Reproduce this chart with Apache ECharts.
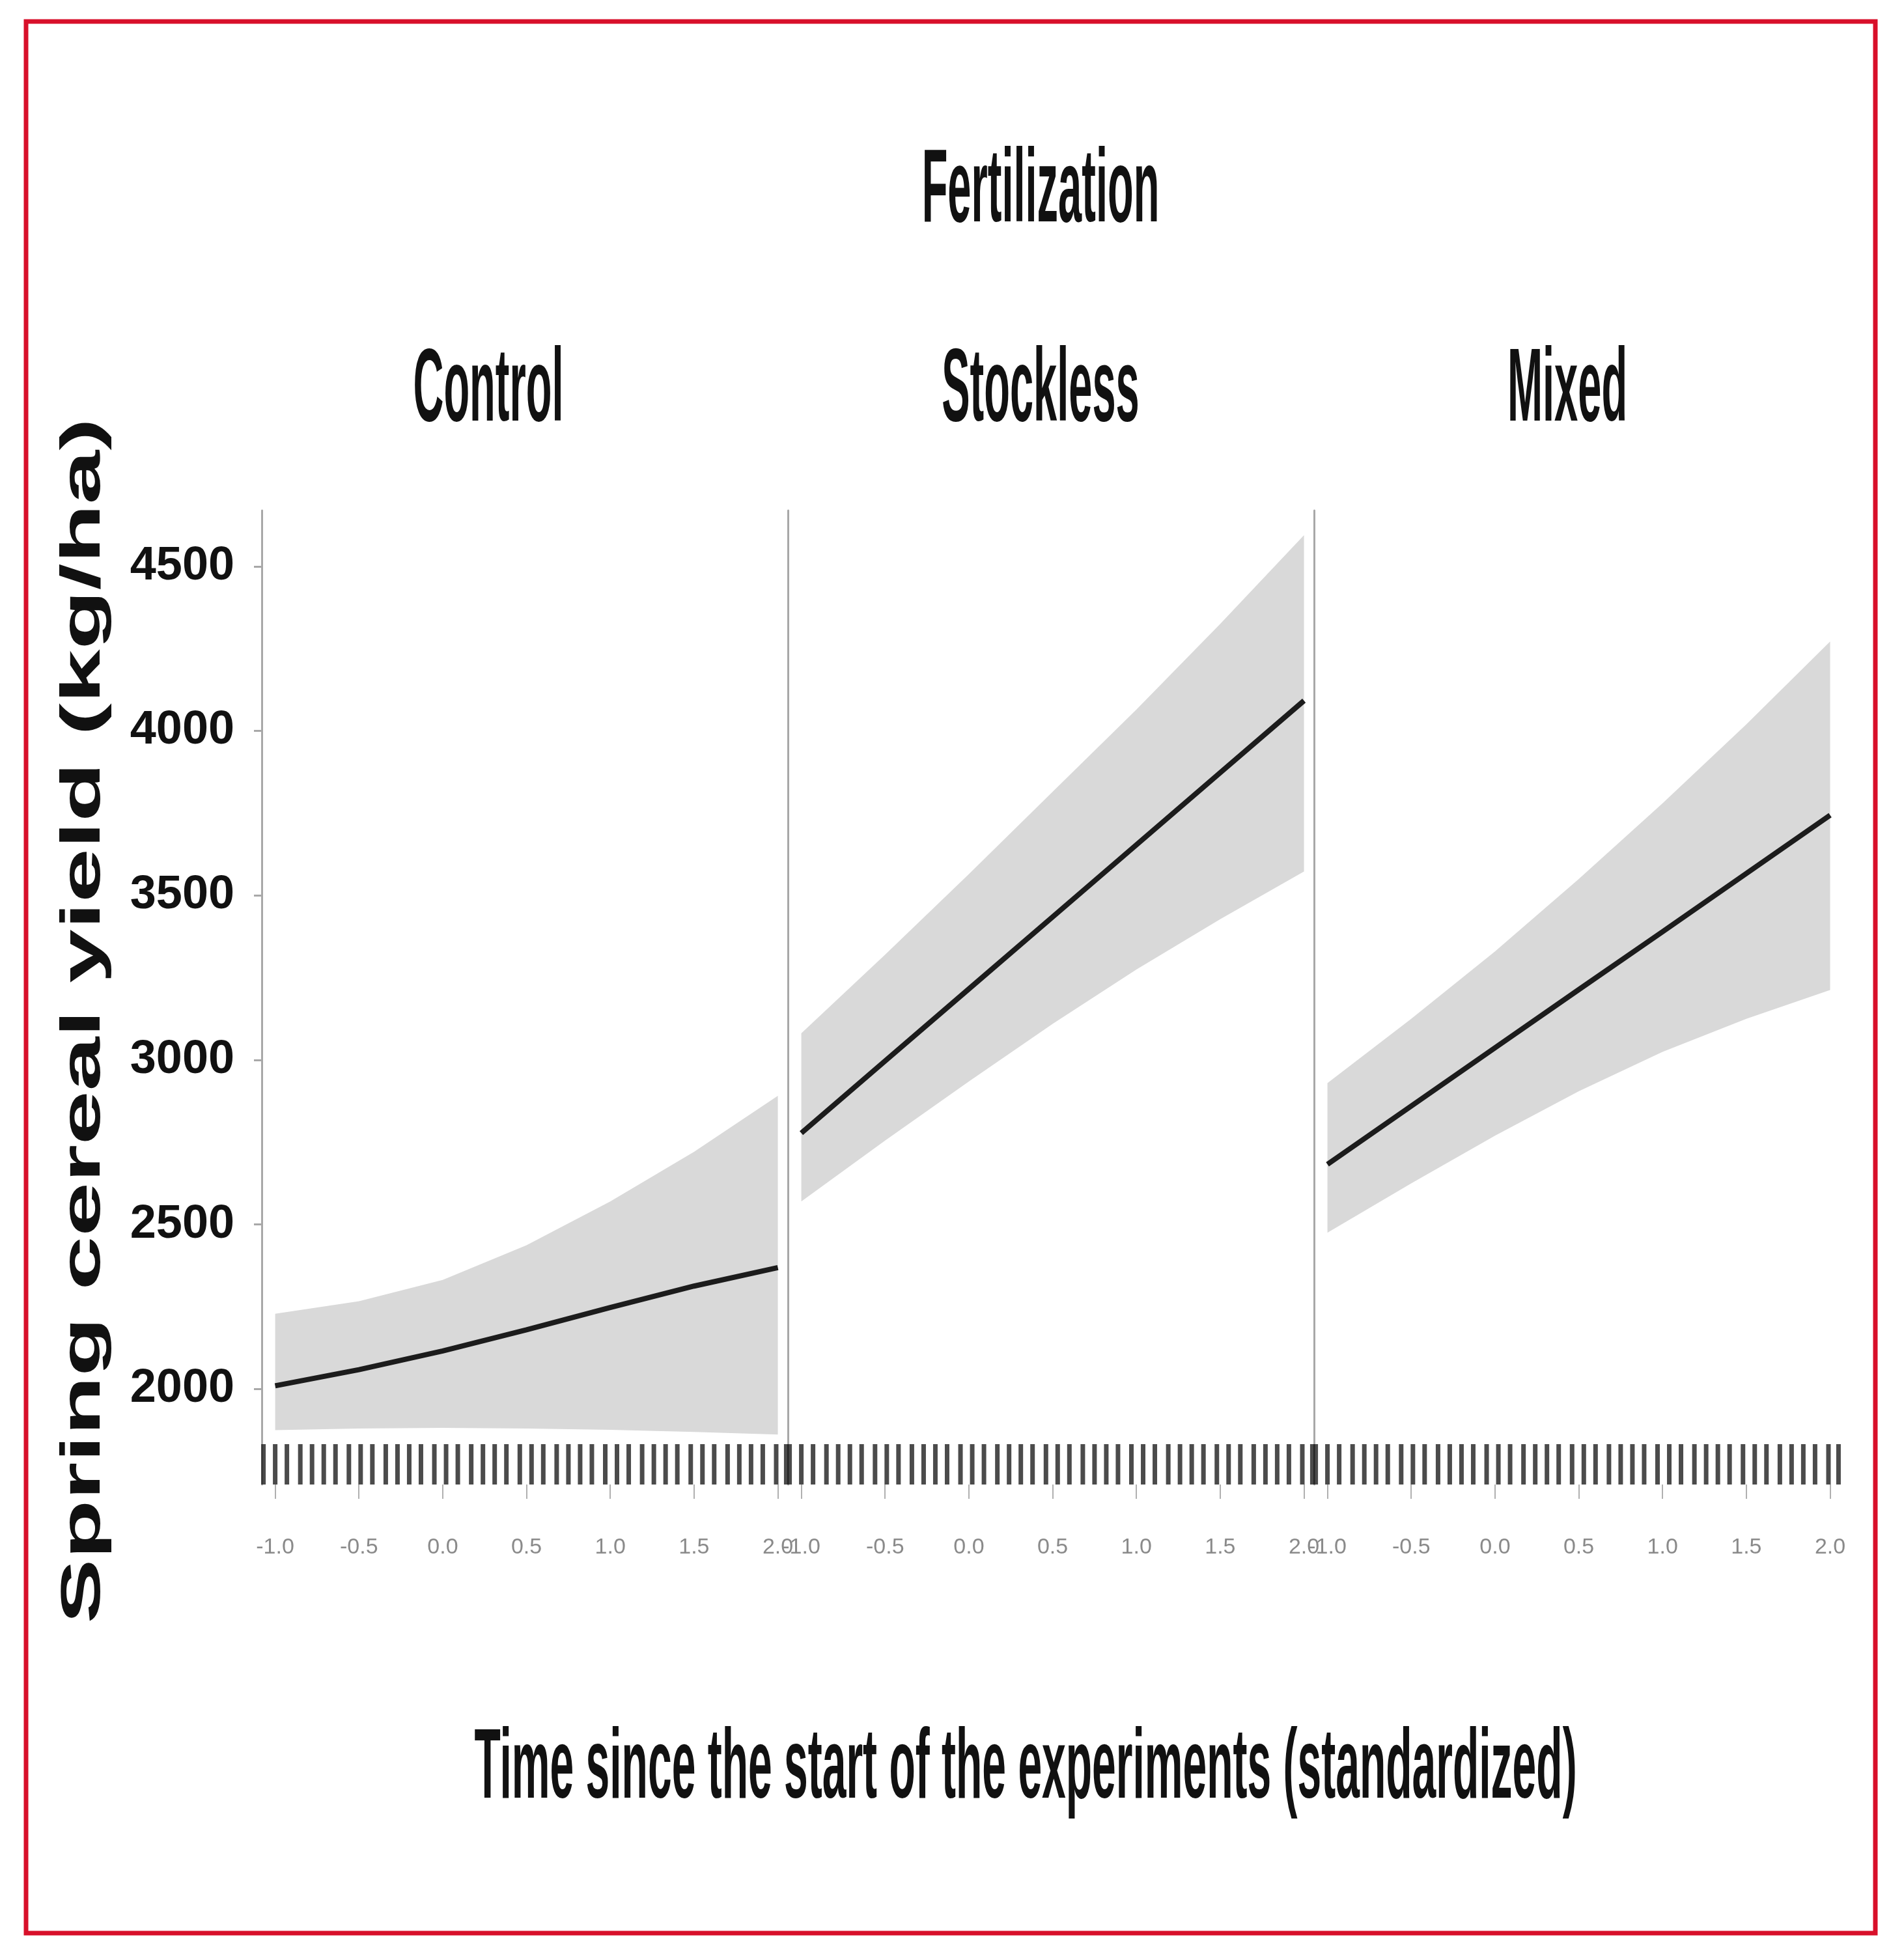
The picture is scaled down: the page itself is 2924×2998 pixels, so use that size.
<!DOCTYPE html>
<html>
<head>
<meta charset="utf-8">
<title>Spring cereal yield by fertilization</title>
<script src="https://cdn.jsdelivr.net/npm/echarts@6/dist/echarts.min.js"></script>
<style>
  html, body { margin: 0; padding: 0; background: #fff; }
  #chart { width: 2924px; height: 2998px; }
</style>
</head>
<body>
<div id="chart"></div>
<script>
// facets
const panels = ['Control', 'Stockless', 'Mixed']

// standardized time (x) where the fitted curves were read
const timePoints = [-1, -0.5, 0, 0.5, 1, 1.5, 2]

// fitted yield (kg/ha) and confidence band, one array per panel
const fitControl = [2010, 2059, 2116, 2180, 2248, 2313, 2369]
const upperControl = [2229, 2267, 2332, 2437, 2570, 2721, 2891]
const lowerControl = [1875, 1880, 1882, 1880, 1876, 1870, 1862]

const fitStockless = [2778, 2997, 3216, 3435, 3654, 3873, 4092]
const upperStockless = [3081, 3320, 3565, 3815, 4065, 4325, 4595]
const lowerStockless = [2570, 2755, 2935, 3110, 3275, 3428, 3573]

const fitMixed = [2683, 2860, 3037, 3214, 3390, 3567, 3744]
const upperMixed = [2930, 3125, 3330, 3550, 3780, 4020, 4272]
const lowerMixed = [2475, 2625, 2770, 2905, 3025, 3125, 3213]

// observation times shown as a rug under each panel
const rugTimes = [-1.07, -1.00, -0.93, -0.85, -0.78, -0.71, -0.64, -0.56, -0.49, -0.42, -0.34,
  -0.27, -0.20, -0.13, -0.05, 0.02, 0.09, 0.17, 0.24, 0.31, 0.38, 0.46, 0.53, 0.60, 0.68, 0.75,
  0.82, 0.89, 0.97, 1.04, 1.11, 1.19, 1.26, 1.33, 1.40, 1.48, 1.55, 1.62, 1.70, 1.77, 1.84, 1.91,
  1.99, 2.05]

// axis ticks
const xTicks = [-1, -0.5, 0, 0.5, 1, 1.5, 2]
const yTicks = [2000, 2500, 3000, 3500, 4000, 4500]

const fits = [fitControl, fitStockless, fitMixed]
const uppers = [upperControl, upperStockless, upperMixed]
const lowers = [lowerControl, lowerStockless, lowerMixed]

const X_MIN = -1.08
const X_MAX = 2.06
const Y_MIN = 1710
const Y_MAX = 4670

const labelFont = "'Liberation Sans', Arial, sans-serif"
const titleFont = "'Liberation Sans', Arial, sans-serif"
const axisGray = '#a8a8a8'

const gridLefts = [402, 1210, 2018]

const grids = gridLefts.map(left => ({ left, top: 784, width: 808, height: 1496 }))

const xAxes = panels.map((p, i) => ({
  type: 'value',
  gridIndex: i,
  min: X_MIN,
  max: X_MAX,
  splitLine: { show: false },
  axisLine: { show: false, onZero: false },
  axisTick: {
    show: true,
    customValues: xTicks,
    length: 22,
    lineStyle: { color: '#b0b0b0', width: 2 }
  },
  axisLabel: {
    customValues: xTicks,
    formatter: v => v.toFixed(1),
    margin: 80,
    fontFamily: labelFont,
    fontSize: 34,
    color: '#8a8a8a'
  }
}))

const yAxes = panels.map((p, i) => ({
  type: 'value',
  gridIndex: i,
  min: Y_MIN,
  max: Y_MAX,
  splitLine: { show: false },
  axisLine: { show: true, onZero: false, lineStyle: { color: axisGray, width: 3 } },
  axisTick: {
    show: i === 0,
    customValues: yTicks,
    length: 12,
    lineStyle: { color: axisGray, width: 3 }
  },
  axisLabel: {
    show: i === 0,
    customValues: yTicks,
    formatter: v => String(v),
    margin: 42,
    fontFamily: labelFont,
    fontWeight: 'bold',
    fontSize: 72,
    color: '#111'
  }
}))

// confidence band drawn as one polygon through the axis scales
const renderBand = (params, api) => {
  if (params.dataIndexInside !== 0) return { type: 'group', children: [] }
  const n = timePoints.length
  const top = []
  const bottom = []
  for (let k = 0; k < n; k++) {
    top.push(api.coord([api.value(0, k), api.value(2, k)]))
    bottom.push(api.coord([api.value(0, k), api.value(1, k)]))
  }
  return {
    type: 'polygon',
    shape: { points: top.concat(bottom.reverse()) },
    style: { fill: '#d9d9d9', stroke: null }
  }
}

const series = []
panels.forEach((p, i) => {
  series.push({
    name: p + ' band',
    type: 'custom',
    xAxisIndex: i,
    yAxisIndex: i,
    data: timePoints.map((t, k) => [t, lowers[i][k], uppers[i][k]]),
    encode: { x: 0, y: [1, 2] },
    renderItem: renderBand,
    silent: true,
    z: 1
  })
  series.push({
    name: p + ' fit',
    type: 'line',
    xAxisIndex: i,
    yAxisIndex: i,
    data: timePoints.map((t, k) => [t, fits[i][k]]),
    symbol: 'none',
    lineStyle: { color: '#1c1c1c', width: 8 },
    z: 3
  })
  series.push({
    name: p + ' rug',
    type: 'scatter',
    xAxisIndex: i,
    yAxisIndex: i,
    data: rugTimes.map(t => [t, Y_MIN]),
    symbol: 'rect',
    symbolSize: [7, 62],
    symbolOffset: [0, -31],
    itemStyle: { color: '#1e1e1e' },
    clip: false,
    silent: true,
    z: 3
  })
})

const titleText = (text, x, y, size, sy) => ({
  type: 'text',
  x, y,
  scaleY: sy,
  style: {
    text,
    fontFamily: titleFont,
    fontWeight: 'bold',
    fontSize: size,
    fill: '#111',
    align: 'center',
    verticalAlign: 'middle'
  }
})

const option = {
  backgroundColor: '#fff',
  animation: false,
  grid: grids,
  xAxis: xAxes,
  yAxis: yAxes,
  series,
  graphic: [
    {
      type: 'rect',
      shape: { x: 40, y: 33, width: 2840, height: 2936 },
      style: { fill: 'none', stroke: '#d8102a', lineWidth: 7 }
    },
    titleText('Fertilization', 1598, 296, 65, 2.45),
    titleText(panels[0], 750, 602, 65, 2.45),
    titleText(panels[1], 1598, 602, 65, 2.45),
    titleText(panels[2], 2407, 602, 65, 2.45),
    titleText('Time since the start of the experiments (standardized)', 1575, 2719, 66, 2.3),
    {
      type: 'text',
      x: 130,
      y: 1568,
      rotation: Math.PI / 2,
      scaleX: 1.75,
      style: {
        text: 'Spring cereal yield (kg/ha)',
        fontFamily: titleFont,
        fontWeight: 'bold',
        fontSize: 85,
        fill: '#111',
        align: 'center',
        verticalAlign: 'middle'
      }
    }
  ]
}

const chart = echarts.init(document.getElementById('chart'))
chart.setOption(option)
</script>
</body>
</html>
